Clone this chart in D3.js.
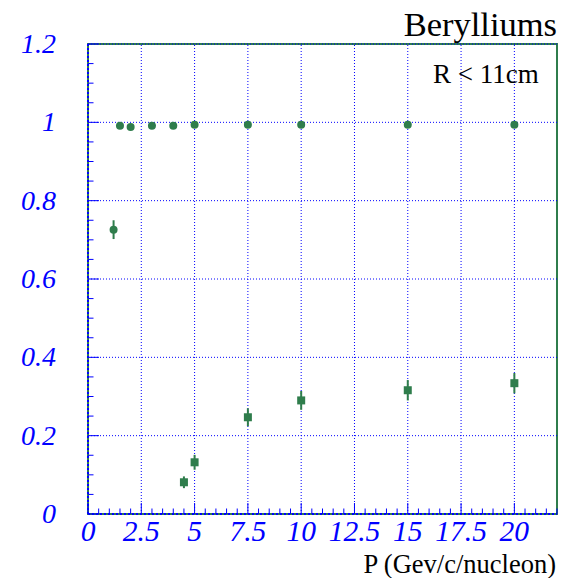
<!DOCTYPE html>
<meta charset="utf-8">
<html>
<head>
  <script src="https://d3js.org/d3.v7.min.js" charset="utf-8"></script>
</head>
<style>
body { margin: 0; background-color: white; }
</style>
<body>
<div id="container"></div>
<script type="text/javascript">

// circles: upper series
var circX   = [1.2, 1.5, 2, 3, 4, 5, 7.5, 10, 15, 20];
var circY   = [0.726, 0.991, 0.988, 0.991, 0.991, 0.994, 0.994, 0.994, 0.994, 0.994];
var circErr = [0.024, 0.004, 0.004, 0.004, 0.004, 0.003, 0.003, 0.003, 0.003, 0.003];

// squares: lower series
var sqX   = [4.5, 5, 7.5, 10, 15, 20];
var sqY   = [0.081, 0.132, 0.247, 0.29, 0.316, 0.334];
var sqErr = [0.015, 0.019, 0.023, 0.024, 0.026, 0.026];

var xTicks = [0, 2.5, 5, 7.5, 10, 12.5, 15, 17.5, 20];
var xTickLabels = ["0", "2.5", "5", "7.5", "10", "12.5", "15", "17.5", "20"];
var yTicks = [0, 0.2, 0.4, 0.6, 0.8, 1, 1.2];
var yTickLabels = ["0", "0.2", "0.4", "0.6", "0.8", "1", "1.2"];

var width = 563, height = 578;
var margin = {left: 88, top: 44, right: 6, bottom: 64};
var green = "#2f7d4c";
var blue = "#0000ff";
var serif = "'Liberation Serif', 'DejaVu Serif', serif";

var svg = d3.select("#container").append("svg")
    .attr("width", width)
    .attr("height", height);

var x = d3.scaleLinear().domain([0, 22]).range([margin.left, width - margin.right]);
var y = d3.scaleLinear().domain([0, 1.2]).range([height - margin.bottom, margin.top]);

// frame
svg.append("rect")
   .attr("x", x(0)).attr("y", y(1.2))
   .attr("width", x(22) - x(0)).attr("height", y(0) - y(1.2))
   .attr("fill", "white").attr("stroke", green).attr("stroke-width", 2);

// grid
svg.append("g").selectAll("line")
   .data(xTicks.slice(1))
   .enter().append("line")
   .attr("x1", d => x(d)).attr("x2", d => x(d))
   .attr("y1", y(0)).attr("y2", y(1.2))
   .attr("stroke", blue).attr("stroke-width", 1).attr("stroke-dasharray", "1,2");

svg.append("g").selectAll("line")
   .data(yTicks.slice(1))
   .enter().append("line")
   .attr("x1", x(0)).attr("x2", x(22))
   .attr("y1", d => y(d)).attr("y2", d => y(d))
   .attr("stroke", blue).attr("stroke-width", 1).attr("stroke-dasharray", "1,2");

// axis lines (blue dotted over green frame)
svg.append("line")
   .attr("x1", x(0)).attr("x2", x(22)).attr("y1", y(0)).attr("y2", y(0))
   .attr("stroke", blue).attr("stroke-width", 2).attr("stroke-dasharray", "2,2");
svg.append("line")
   .attr("x1", x(0)).attr("x2", x(0)).attr("y1", y(0)).attr("y2", y(1.2))
   .attr("stroke", blue).attr("stroke-width", 2).attr("stroke-dasharray", "2,2");

// ticks, pointing inward
var xMinor = d3.range(0, 22.01, 0.5);
var yMinor = d3.range(0, 1.201, 0.05);

svg.append("g").selectAll("line")
   .data(xMinor)
   .enter().append("line")
   .attr("x1", d => x(d)).attr("x2", d => x(d))
   .attr("y1", y(0))
   .attr("y2", d => y(0) - (Math.abs(d / 2.5 - Math.round(d / 2.5)) < 1e-6 ? 11 : 5.5))
   .attr("stroke", blue).attr("stroke-width", 1);

svg.append("g").selectAll("line")
   .data(yMinor)
   .enter().append("line")
   .attr("y1", d => y(d)).attr("y2", d => y(d))
   .attr("x1", x(0))
   .attr("x2", d => x(0) + (Math.abs(d / 0.2 - Math.round(d / 0.2)) < 1e-6 ? 11 : 5.5))
   .attr("stroke", blue).attr("stroke-width", 1);

// tick labels
svg.append("g").selectAll("text")
   .data(xTicks)
   .enter().append("text")
   .attr("x", d => x(d))
   .attr("y", y(0) + 27)
   .attr("text-anchor", "middle")
   .style("font-family", serif).style("font-style", "italic")
   .style("font-size", "29.5px").attr("fill", blue)
   .text((d, i) => xTickLabels[i]);

svg.append("g").selectAll("text")
   .data(yTicks)
   .enter().append("text")
   .attr("x", 56)
   .attr("y", d => y(d) + 9)
   .attr("text-anchor", "end")
   .style("font-family", serif).style("font-style", "italic")
   .style("font-size", "28px").attr("fill", blue)
   .text((d, i) => yTickLabels[i]);

// error bars
function errBars(xs, ys, es) {
  svg.append("g").selectAll("line")
     .data(xs)
     .enter().append("line")
     .attr("x1", d => x(d)).attr("x2", d => x(d))
     .attr("y1", (d, i) => y(ys[i] - es[i]))
     .attr("y2", (d, i) => y(ys[i] + es[i]))
     .attr("stroke", green).attr("stroke-width", 2);
}
errBars(circX, circY, circErr);
errBars(sqX, sqY, sqErr);

svg.append("g").selectAll("circle")
   .data(circX)
   .enter().append("circle")
   .attr("cx", d => x(d))
   .attr("cy", (d, i) => y(circY[i]))
   .attr("r", 4)
   .attr("fill", green);

svg.append("g").selectAll("rect")
   .data(sqX)
   .enter().append("rect")
   .attr("x", d => x(d) - 4)
   .attr("y", (d, i) => y(sqY[i]) - 4)
   .attr("width", 8).attr("height", 8)
   .attr("fill", green);

// texts
svg.append("text")
   .attr("x", 557).attr("y", 36)
   .attr("text-anchor", "end")
   .style("font-family", serif).style("font-size", "34.5px")
   .text("Berylliums");

svg.append("text")
   .attr("x", 433).attr("y", 83)
   .style("font-family", serif).style("font-size", "27px")
   .text("R < 11cm");

svg.append("text")
   .attr("x", 556).attr("y", 573)
   .attr("text-anchor", "end")
   .style("font-family", serif).style("font-size", "26.5px")
   .text("P (Gev/c/nucleon)");

</script>
</body>
</html>
